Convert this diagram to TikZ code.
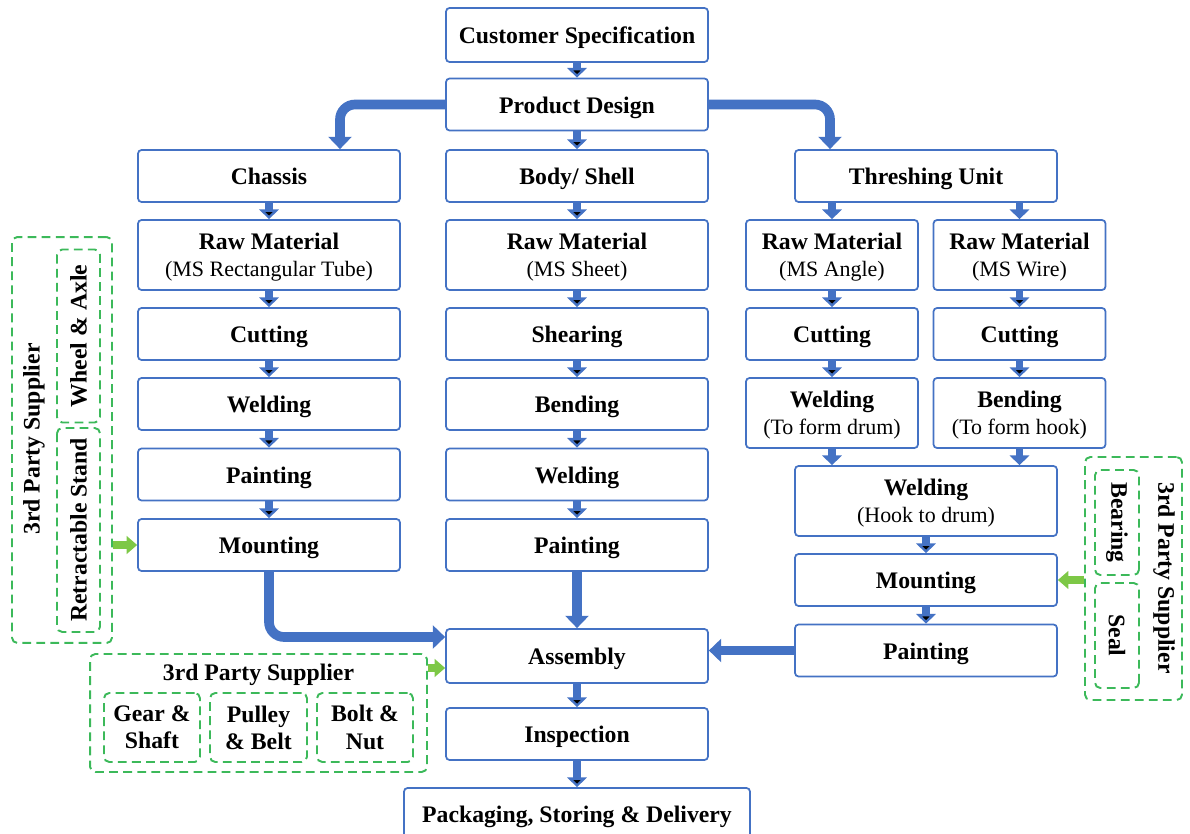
\documentclass[tikz,border=0pt]{standalone}
\usepackage{fontspec}
\setmainfont{Liberation Serif}
\usetikzlibrary{arrows.meta}

\definecolor{boxblue}{RGB}{68,114,196}
\definecolor{supgreen}{RGB}{60,185,90}
\definecolor{arrgreen}{RGB}{125,200,70}
\newcommand{\subline}[1]{\\{\mdseries\fontsize{12.5}{15.5}\selectfont #1}}

\begin{document}
\begin{tikzpicture}[x=0.02cm, y=-0.02cm,
    stage/.style={draw=boxblue, line width=1pt, rounded corners=2pt, fill=white,
        minimum width=5.24cm, minimum height=1.04cm, inner sep=1pt, align=center,
        text height=13pt, text depth=3pt,
        font=\bfseries\fontsize{13.5}{15.5}\selectfont},
    half/.style={minimum width=3.44cm},
    tall/.style={minimum height=1.4cm, text height=, text depth=0pt},
    supbox/.style={draw=supgreen, line width=1.1pt, dash pattern=on 5pt off 3pt,
        rounded corners=3pt, inner sep=0pt, align=center,
        font=\bfseries\fontsize{13.5}{15.5}\selectfont},
    suptext/.style={font=\bfseries\fontsize{13.5}{15.5}\selectfont, inner sep=0pt},
    flow/.style={-{Triangle[width=11pt,length=5.5pt]}, line width=4pt, draw=boxblue},
    bigflow/.style={-{Triangle[width=13pt,length=7pt]}, line width=5.5pt, draw=boxblue, rounded corners=0.3cm},
    supply/.style={-{Triangle[width=10pt,length=6pt]}, line width=4.5pt, draw=arrgreen}]

    \useasboundingbox (0,0) rectangle (1190,834);

    % Nodes {top, branches}
    \node [stage, minimum height=1.08cm] (cust)    at (577,35)    {Customer Specification};
    \node [stage]                        (design)  at (577,104.5) {Product Design};
    \node [stage]                        (chassis) at (269,176)   {Chassis};
    \node [stage]                        (body)    at (577,176)   {Body/ Shell};
    \node [stage]                        (thresh)  at (926,176)   {Threshing Unit};

    % Nodes {chassis column}
    \node [stage, tall] (rawC)   at (269,255)   {Raw Material\subline{(MS Rectangular Tube)}};
    \node [stage]       (cutC)   at (269,334)   {Cutting};
    \node [stage]       (weldC)  at (269,404)   {Welding};
    \node [stage]       (paintC) at (269,474.5) {Painting};
    \node [stage]       (mountC) at (269,545)   {Mounting};

    % Nodes {body column}
    \node [stage, tall] (rawB)   at (577,255)   {Raw Material\subline{(MS Sheet)}};
    \node [stage]       (shearB) at (577,334)   {Shearing};
    \node [stage]       (bendB)  at (577,404)   {Bending};
    \node [stage]       (weldB)  at (577,474.5) {Welding};
    \node [stage]       (paintB) at (577,545)   {Painting};

    % Nodes {threshing column}
    \node [stage, half, tall] (rawA)   at (832,255)    {Raw Material\subline{(MS Angle)}};
    \node [stage, half, tall] (rawW)   at (1019.5,255) {Raw Material\subline{(MS Wire)}};
    \node [stage, half]       (cutA)   at (832,334)    {Cutting};
    \node [stage, half]       (cutW)   at (1019.5,334) {Cutting};
    \node [stage, half, tall] (weldA)  at (832,413)    {Welding\subline{(To form drum)}};
    \node [stage, half, tall] (bendW)  at (1019.5,413) {Bending\subline{(To form hook)}};
    \node [stage, tall]       (weldH)  at (926,501)    {Welding\subline{(Hook to drum)}};
    \node [stage]             (mountT) at (926,580)    {Mounting};
    \node [stage]             (paintT) at (926,650.5)  {Painting};

    % Nodes {final}
    \node [stage, minimum height=1.08cm] (assy) at (577,656) {Assembly};
    \node [stage]                        (insp) at (577,734) {Inspection};
    \node [stage, minimum width=6.92cm]   (pack) at (577,814) {Packaging, Storing \& Delivery};

    % Suppliers
    \node [supbox, minimum width=2cm, minimum height=8.12cm]              (supL)    at (62,440)    {};
    \node [suptext, rotate=90]                                            (supLt)   at (34,439)    {3rd Party Supplier};
    \node [supbox, rotate=90, minimum width=3.46cm, minimum height=0.86cm] (wheel)   at (78.5,336)  {Wheel \& Axle};
    \node [supbox, rotate=90, minimum width=4.08cm, minimum height=0.86cm] (stand)   at (78.5,530)  {Retractable Stand};

    \node [supbox, minimum width=6.74cm, minimum height=2.36cm] (supB)   at (258.5,713)   {};
    \node [suptext]                                              (supBt)  at (258.5,675)   {3rd Party Supplier};
    \node [supbox, minimum width=1.92cm, minimum height=1.38cm] (gear)   at (152,727.5)   {Gear \&\\Shaft};
    \node [supbox, minimum width=1.94cm, minimum height=1.38cm] (pulley) at (258.5,727.5) {Pulley\\\& Belt};
    \node [supbox, minimum width=1.92cm, minimum height=1.38cm] (bolt)   at (365,727.5)   {Bolt \&\\Nut};

    \node [supbox, minimum width=1.94cm, minimum height=4.86cm]             (supR)    at (1133.5,578.5) {};
    \node [suptext, rotate=-90]                                             (supRt)   at (1164,578)     {3rd Party Supplier};
    \node [supbox, rotate=-90, minimum width=2.1cm, minimum height=0.88cm]  (bearing) at (1117,522.5)   {Bearing};
    \node [supbox, rotate=-90, minimum width=2.1cm, minimum height=0.88cm]  (seal)    at (1117,635.5)   {Seal};

    % Paths
    \path [flow] (cust) edge (design);
    \path [flow] (design) edge (body);
    \path [flow] (chassis) edge (rawC)  (rawC) edge (cutC)  (cutC) edge (weldC)
                 (weldC) edge (paintC)  (paintC) edge (mountC);
    \path [flow] (body) edge (rawB)  (rawB) edge (shearB)  (shearB) edge (bendB)
                 (bendB) edge (weldB)  (weldB) edge (paintB);
    \draw [flow] (thresh.south -| rawA) -- (rawA.north);
    \draw [flow] (thresh.south -| rawW) -- (rawW.north);
    \path [flow] (rawA) edge (cutA)  (cutA) edge (weldA)
                 (rawW) edge (cutW)  (cutW) edge (bendW);
    \draw [flow] (weldA.south) -- (weldH.north -| weldA);
    \draw [flow] (bendW.south) -- (weldH.north -| bendW);
    \path [flow] (weldH) edge (mountT)  (mountT) edge (paintT);
    \path [flow] (assy) edge (insp)  (insp) edge (pack);

    \coordinate (aTop) at ([yshift=0.38cm]assy.west);
    \coordinate (aLow) at ([yshift=-0.24cm]assy.west);
    \draw [bigflow] (design.west) -| ([xshift=1.42cm]chassis.north);
    \draw [bigflow] (design.east) -| ([xshift=-1.92cm]thresh.north);
    \draw [bigflow] (mountC.south) |- (aTop);
    \draw [bigflow] (paintB.south) -- (assy.north);
    \draw [bigflow] (paintT.west) -- (paintT.west -| assy.east);

    \draw [supply] (supL.east |- mountC) -- (mountC.west);
    \draw [supply] (supB.east |- aLow) -- (aLow);
    \draw [supply] (supR.west |- mountT) -- (mountT.east);

\end{tikzpicture}
\end{document}
